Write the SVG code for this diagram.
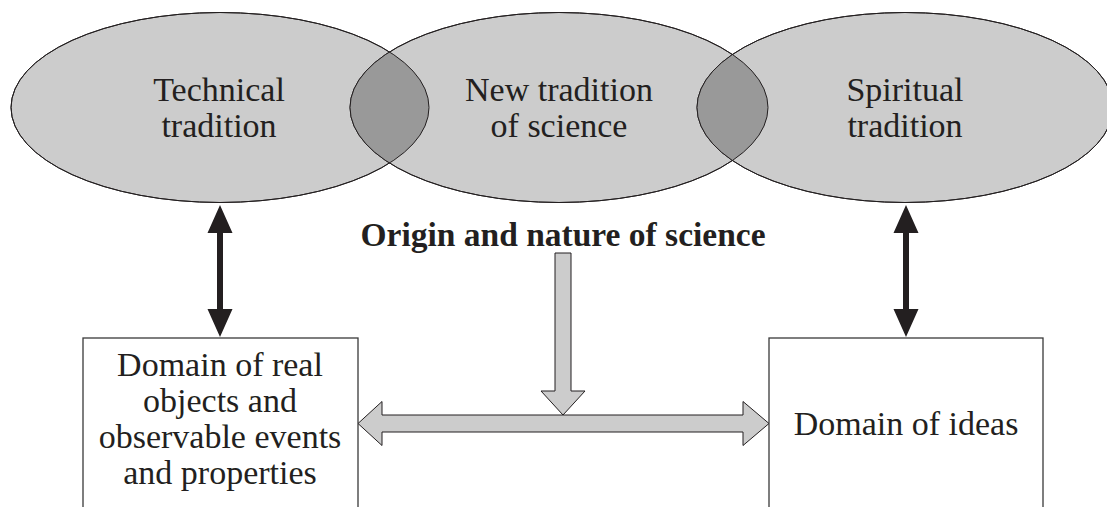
<svg xmlns="http://www.w3.org/2000/svg" width="1107" height="507" viewBox="0 0 1107 507">
  <style>
    .ell { fill: #cccccc; stroke: #231f20; stroke-width: 1; }
    .lens { fill: #999999; }
    .outline { fill: none; stroke: #231f20; stroke-width: 1; }
    .box { fill: #ffffff; stroke: #3a3a3a; stroke-width: 1.3; }
    .lbl { font-family: "Liberation Serif", "Times New Roman", serif; font-size: 34px; fill: #231f20; text-anchor: middle; }
    .bold { font-weight: bold; font-size: 33.5px; }
    .grey-arrow { fill: #cccccc; stroke: #231f20; stroke-width: 1; stroke-linejoin: miter; }
    .black-arrow { fill: #231f20; }
  </style>
  <defs>
    <ellipse id="e1" cx="220" cy="107.5" rx="209" ry="95"/>
    <ellipse id="e2" cx="559" cy="107.5" rx="209" ry="95"/>
    <ellipse id="e3" cx="905" cy="107.5" rx="208" ry="95"/>
    <clipPath id="clip-e1"><use href="#e1"/></clipPath>
    <clipPath id="clip-e3"><use href="#e3"/></clipPath>
  </defs>

  <rect width="1107" height="507" fill="#ffffff"/>

  <!-- overlapping traditions -->
  <g id="traditions">
    <use href="#e1" class="ell"/>
    <use href="#e2" class="ell"/>
    <use href="#e3" class="ell"/>
    <use href="#e2" class="lens" clip-path="url(#clip-e1)"/>
    <use href="#e2" class="lens" clip-path="url(#clip-e3)"/>
    <use href="#e1" class="outline"/>
    <use href="#e2" class="outline"/>
    <use href="#e3" class="outline"/>
  </g>

  <g id="technical-tradition">
    <text class="lbl" x="219" y="101">Technical</text>
    <text class="lbl" x="219" y="137">tradition</text>
  </g>

  <g id="new-tradition">
    <text class="lbl" x="559" y="101">New tradition</text>
    <text class="lbl" x="559" y="137">of science</text>
  </g>

  <g id="spiritual-tradition">
    <text class="lbl" x="905" y="101">Spiritual</text>
    <text class="lbl" x="905" y="137">tradition</text>
  </g>

  <g id="origin-label">
    <text class="lbl bold" x="563" y="246">Origin and nature of science</text>
  </g>

  <g id="real-domain">
    <rect class="box" x="83" y="338" width="275" height="180"/>
    <text class="lbl" x="220" y="376">Domain of real</text>
    <text class="lbl" x="220" y="412">objects and</text>
    <text class="lbl" x="220" y="448">observable events</text>
    <text class="lbl" x="220" y="484">and properties</text>
  </g>

  <g id="ideas-domain">
    <rect class="box" x="769" y="338" width="274" height="180"/>
    <text class="lbl" x="906" y="435">Domain of ideas</text>
  </g>

  <!-- connectors -->
  <g id="connectors">
    <!-- black double arrows between traditions and domains -->
    <path class="black-arrow" d="M220 205 L232.5 233 L223 233 L223 309 L232.5 309 L220 337 L207.5 309 L217 309 L217 233 L207.5 233 Z"/>
    <path class="black-arrow" d="M906 205 L918.5 233 L909 233 L909 309 L918.5 309 L906 337 L893.5 309 L903 309 L903 233 L893.5 233 Z"/>
    <!-- grey block arrow from the origin label down -->
    <path class="grey-arrow" d="M555 253 L571 253 L571 391 L585 391 L563 415 L541 391 L555 391 Z"/>
    <!-- grey horizontal double block arrow between domains -->
    <path class="grey-arrow" d="M358 423.5 L382 401.5 L382 415 L743 415 L743 401.5 L769 423.5 L743 445.5 L743 432 L382 432 L382 445.5 Z"/>
  </g>
</svg>
